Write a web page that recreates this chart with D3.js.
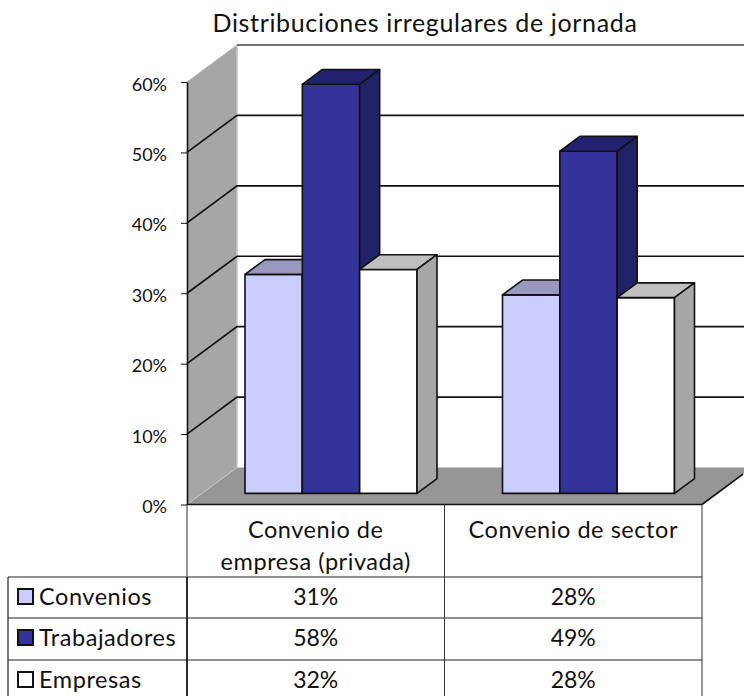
<!DOCTYPE html>
<html>
<head>
<meta charset="utf-8">
<script src="https://cdn.jsdelivr.net/npm/d3@7"></script>
<style>
  html, body { margin: 0; padding: 0; background: #fff; }
  svg { display: block; }
  text { font-family: Lato, sans-serif; fill: #111; }
</style>
</head>
<body>
<svg width="744" height="696"></svg>
<script>
var categories = [["Convenio de", "empresa (privada)"], ["Convenio de sector"]];
var seriesNames = ["Convenios", "Trabajadores", "Empresas"];
var convenios = [0.311, 0.282];
var trabajadores = [0.581, 0.486];
var empresas = [0.318, 0.278];
var tickValues = [0, 0.1, 0.2, 0.3, 0.4, 0.5, 0.6];

var allSeries = [convenios, trabajadores, empresas];
var frontColors = ["#ccccff", "#333399", "#ffffff"];
var topColors = ["#9999c0", "#222270", "#bfbfbf"];
var sideColors = ["#9999c0", "#222266", "#a6a6a6"];

var svg = d3.select("svg");

var scaleY = d3.scaleLinear().domain([0, 0.6]).range([504.5, 82]);
var scaleCat = d3.scaleBand().domain([0, 1]).range([187, 702]);
var scaleBar = d3.scaleBand().domain([0, 1, 2]).range([43, 215]);

// depth goes from 0 (front of the floor) to 1 (back wall)
var depthX = 50, depthY = 37;
function pt(x, y, z) {
  return [x + z * depthX, y - z * depthY];
}
function toPoints(points) {
  return points.map(function(p) { return p.join(","); }).join(" ");
}
function poly(points, fill, stroke, width) {
  return svg.append("polygon")
    .attr("points", toPoints(points))
    .attr("fill", fill)
    .attr("stroke", stroke || "none")
    .attr("stroke-width", width || 0)
    .attr("stroke-linejoin", "round");
}
function edge(a, b, color, width) {
  return svg.append("line")
    .attr("x1", a[0]).attr("y1", a[1])
    .attr("x2", b[0]).attr("y2", b[1])
    .attr("stroke", color).attr("stroke-width", width);
}

var x0 = scaleCat.range()[0], x1 = scaleCat.range()[1];
var yTop = scaleY(0.6), yBase = scaleY(0);

// walls and floor
poly([pt(x0, yBase, 0), pt(x0, yTop, 0), pt(x0, yTop, 1), pt(x0, yBase, 1)], "#a6a6a6");
poly([pt(x0, yBase, 0), pt(x1, yBase, 0), pt(x1, yBase, 1), pt(x0, yBase, 1)], "#969696");

edge(pt(x0, yTop, 1), pt(x0, yBase, 1), "#c4c4c4", 1.5);
edge(pt(x0, yBase, 0), pt(x0, yBase, 1), "#c4c4c4", 1);
edge(pt(x0, yTop, 0), pt(x0, yTop, 1), "#bbb", 1);
edge(pt(x0, yTop, 1), [744, pt(x0, yTop, 1)[1]], "#444", 1.5);

// grid lines across side wall and back wall
tickValues.slice(1, 6).forEach(function(t) {
  var a = pt(x0, scaleY(t), 0), b = pt(x0, scaleY(t), 1);
  svg.append("polyline")
    .attr("points", toPoints([a, b, [744, b[1]]]))
    .attr("fill", "none")
    .attr("stroke", "#111")
    .attr("stroke-width", 1.7);
});

// floor edges
edge(pt(x0, yBase, 0), pt(x1, yBase, 0), "#111", 1.6);
edge(pt(x1, yBase, 0), pt(x1, yBase, 0.82), "#111", 1.6);

// bars
var zFront = 0.3, zBack = 0.7;
categories.forEach(function(c, i) {
  allSeries.forEach(function(values, s) {
    var left = scaleCat(i) + scaleBar(s);
    var right = left + scaleBar.bandwidth();
    var y = scaleY(values[i]);
    poly([pt(left, yBase, zFront), pt(right, yBase, zFront), pt(right, y, zFront), pt(left, y, zFront)], frontColors[s], "#111", 1.6);
    poly([pt(left, y, zFront), pt(right, y, zFront), pt(right, y, zBack), pt(left, y, zBack)], topColors[s], "#111", 1.6);
    poly([pt(right, yBase, zFront), pt(right, yBase, zBack), pt(right, y, zBack), pt(right, y, zFront)], sideColors[s], "#111", 1.6);
  });
});

// y axis
var axis = svg.append("g")
  .attr("transform", "translate(" + x0 + ",0)")
  .call(d3.axisLeft(scaleY).tickValues(tickValues).tickFormat(d3.format(".0%")).tickSizeInner(6).tickSizeOuter(0).tickPadding(14));
axis.select(".domain").attr("stroke", "#111").attr("stroke-width", 1.6);
axis.selectAll(".tick line").attr("stroke", "#111").attr("stroke-width", 1);
axis.selectAll(".tick text")
  .attr("font-size", 18)
  .attr("dy", "0.45em")
  .style("font-family", "Lato, sans-serif");

// title
svg.append("text")
  .attr("x", 425).attr("y", 32)
  .attr("text-anchor", "middle")
  .attr("font-size", 25)
  .attr("letter-spacing", 0.65)
  .text("Distribuciones irregulares de jornada");

// table lines
var rowY = [577, 618, 660];
var tableLeft = 8;
rowY.forEach(function(y) {
  edge([tableLeft, y], [x1, y], "#222", 1.2);
});
[x0, scaleCat(1), x1].forEach(function(x) {
  edge([x, yBase], [x, 696], "#333", 1);
});
edge([x0, 577], [x0, 696], "#111", 1.6);
edge([tableLeft, 577], [tableLeft, 696], "#222", 1.2);

// category labels
categories.forEach(function(lines, i) {
  lines.forEach(function(line, k) {
    svg.append("text")
      .attr("x", scaleCat(i) + scaleCat.bandwidth() / 2)
      .attr("y", 538 + k * 32)
      .attr("text-anchor", "middle")
      .attr("font-size", 23.5)
      .attr("letter-spacing", 0.55)
      .text(line);
  });
});

// data table rows with legend keys
var rowMid = [597, 638, 680];
var fmt = d3.format(".0%");
seriesNames.forEach(function(name, s) {
  svg.append("rect")
    .attr("x", 18).attr("y", rowMid[s] - 8).attr("width", 15).attr("height", 15)
    .attr("fill", frontColors[s]).attr("stroke", "#111").attr("stroke-width", 2);
  svg.append("text")
    .attr("x", 39).attr("y", rowMid[s] + 8)
    .attr("font-size", 23.5)
    .attr("letter-spacing", 0.55)
    .text(name);
  allSeries[s].forEach(function(v, i) {
    svg.append("text")
      .attr("x", scaleCat(i) + scaleCat.bandwidth() / 2)
      .attr("y", rowMid[s] + 8)
      .attr("text-anchor", "middle")
      .attr("font-size", 23)
      .text(fmt(v));
  });
});
</script>
</body>
</html>
